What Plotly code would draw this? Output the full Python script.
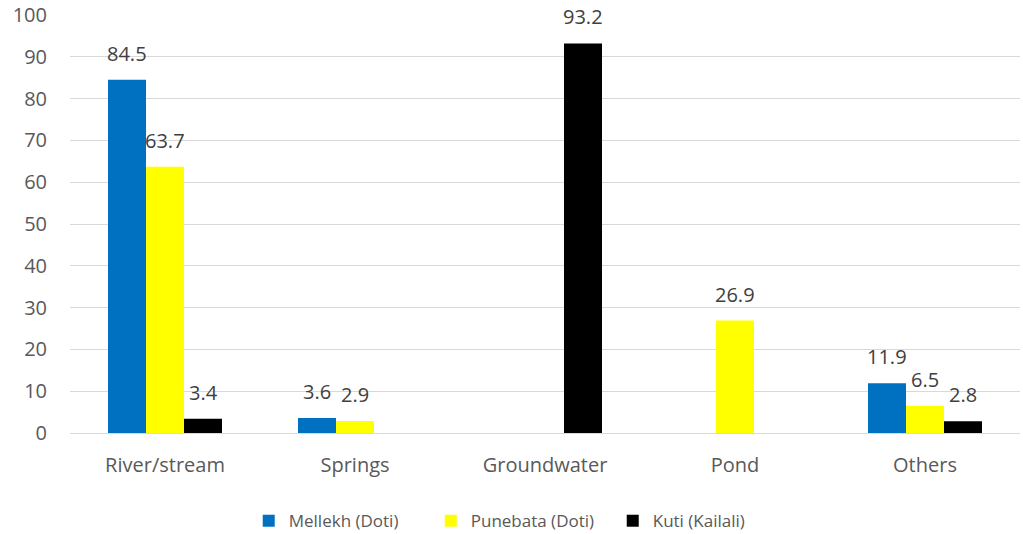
import plotly.graph_objects as go

categories = ["River/stream", "Springs", "Groundwater", "Pond", "Others"]
mellekh = [84.5, 3.6, None, None, 11.9]
punebata = [63.7, 2.9, None, 26.9, 6.5]
kuti = [3.4, None, 93.2, None, 2.8]
series_names = ["Mellekh (Doti)", "Punebata (Doti)", "Kuti (Kailali)"]
colors = ["#0070C0", "#FFFF00", "#000000"]
y_ticks = list(range(0, 101, 10))

FONT = "Open Sans"
TXT = "#595959"
BARGAP = 0.4

fig = go.Figure()
all_series = [mellekh, punebata, kuti]
for name, vals, col in zip(series_names, all_series, colors):
    fig.add_trace(go.Bar(
        x=categories, y=vals, name=name,
        marker=dict(color=col, line=dict(width=0)),
    ))

# value labels sitting above each bar, offset within its group
n = len(all_series)
bar_w = (1 - BARGAP) / n
annotations = []
for j, vals in enumerate(all_series):
    off = (j - (n - 1) / 2) * bar_w
    for i, v in enumerate(vals):
        if v is None:
            continue
        annotations.append(dict(
            x=i + off, y=v, xref="x", yref="y", text=f"{v:.1f}",
            showarrow=False, yanchor="bottom", yshift=11,
            font=dict(family=FONT, size=20, color="#404040"),
        ))

fig.update_layout(
    width=1023, height=534,
    margin=dict(l=70, r=3, t=15, b=101, autoexpand=False),
    paper_bgcolor="white", plot_bgcolor="white",
    barmode="group", bargap=BARGAP, bargroupgap=0,
    font=dict(family=FONT, size=20, color=TXT),
    annotations=annotations,
    showlegend=True,
    legend=dict(orientation="h", x=0.51, xref="container", xanchor="center",
                y=0.024, yref="container", yanchor="middle",
                font=dict(family=FONT, size=17, color=TXT), traceorder="normal",
                itemwidth=30, entrywidth=137, entrywidthmode="pixels"),
)
fig.update_xaxes(showgrid=False, showline=True, linecolor="#d9d9d9", linewidth=1,
                 ticks="", ticklabelstandoff=14, automargin=False,
                 tickfont=dict(size=20, color=TXT))
fig.update_yaxes(range=[0, 100], tickvals=y_ticks, showgrid=True, gridcolor="#d9d9d9",
                 gridwidth=1, zeroline=False, showline=False, ticks="", automargin=False,
                 ticklabelstandoff=22, tickfont=dict(size=20, color=TXT))

fig.write_html("out.html")
